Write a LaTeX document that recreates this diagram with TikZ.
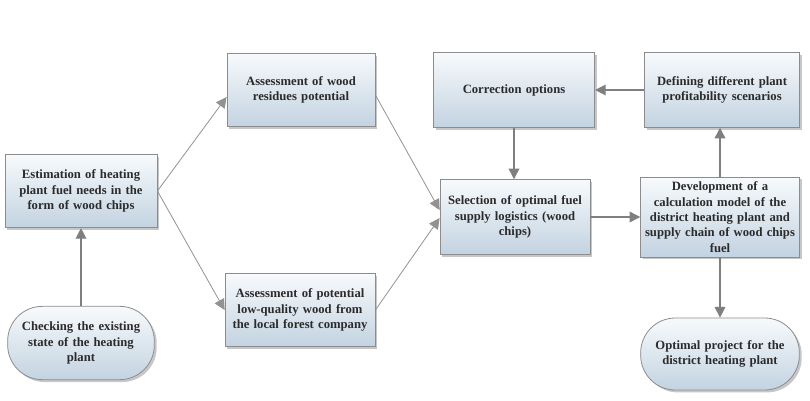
\documentclass[tikz,border=0pt]{standalone}
\usepackage{fontspec}
\setmainfont{Liberation Serif}
\usetikzlibrary{arrows.meta,shadows,calc}
\definecolor{boxtop}{HTML}{F7FAFC}
\definecolor{boxbottom}{HTML}{C3D3E1}
\definecolor{boxline}{HTML}{8C8C8C}
\definecolor{arrowgray}{HTML}{7F7F7F}
\definecolor{textgray}{HTML}{2B2B2B}

\begin{document}
\begin{tikzpicture}[x=0.75pt,y=-0.75pt,
    block/.style={draw=boxline,line width=0.6pt,top color=boxtop,bottom color=boxbottom,
      drop shadow={shadow xshift=1.8pt,shadow yshift=-1.8pt,opacity=0.4,fill=black!55},
      text=textgray,font=\fontsize{9.5}{11.5}\selectfont\bfseries,align=center,inner sep=1pt,
      minimum height=55pt},
    terminal/.style={block,rounded corners=26pt},
    flow/.style={draw=arrowgray,line width=1pt,-{Triangle[length=8pt,width=8pt]}},
    slantflow/.style={flow,line width=0.6pt,draw=arrowgray!85}]
      \useasboundingbox (0,0) rectangle (810,400);
      \node[block,minimum width=114pt,text width=110pt] (est) at (81,191) {Estimation of heating\\plant fuel needs in the\\form of wood chips};
      \node[terminal,minimum width=110pt,text width=100pt] (check) at (81,343) {Checking the existing\\state of the heating\\plant};
      \node[block,minimum width=111pt,text width=107pt] (wood) at (301,90) {Assessment of wood\\residues potential};
      \node[block,minimum width=112.5pt,text width=108pt] (lowq) at (300,310) {Assessment of potential\\low-quality wood from\\the local forest company};
      \node[block,minimum width=112.5pt,text width=108pt,minimum height=56pt] (sel) at (515,217) {Selection of optimal fuel\\supply logistics (wood\\chips)};
      \node[block,minimum width=121pt,text width=116pt,minimum height=56pt] (corr) at (514,90) {Correction options};
      \node[block,minimum width=116pt,text width=112pt,minimum height=56pt] (prof) at (722,90) {Defining different plant\\profitability scenarios};
      \node[block,minimum width=119pt,text width=117pt,minimum height=60pt] (model) at (720,217) {Development of a\\calculation model of the\\district heating plant and\\supply chain of wood chips\\fuel};
      \node[terminal,minimum width=119pt,text width=108pt,minimum height=54pt] (opt) at (720,354) {Optimal project for the\\district heating plant};
      \draw[flow] (check) -- (est);
      \draw[slantflow] (est.east) -- ($(wood.west)+(0,7)$);
      \draw[slantflow] (est.east) -- (lowq.west);
      \draw[slantflow] ($(wood.east)+(0,5)$) -- ($(sel.west)+(0,-7)$);
      \draw[slantflow] (lowq.east) -- ($(sel.west)+(0,1)$);
      \draw[flow] (corr.south) -- (corr.south |- sel.north);
      \draw[flow] (sel) -- (model);
      \draw[flow] (model.north) -- (model.north |- prof.south);
      \draw[flow] (prof) -- (corr);
      \draw[flow] (model) -- (opt);
    \end{tikzpicture}
\end{document}
